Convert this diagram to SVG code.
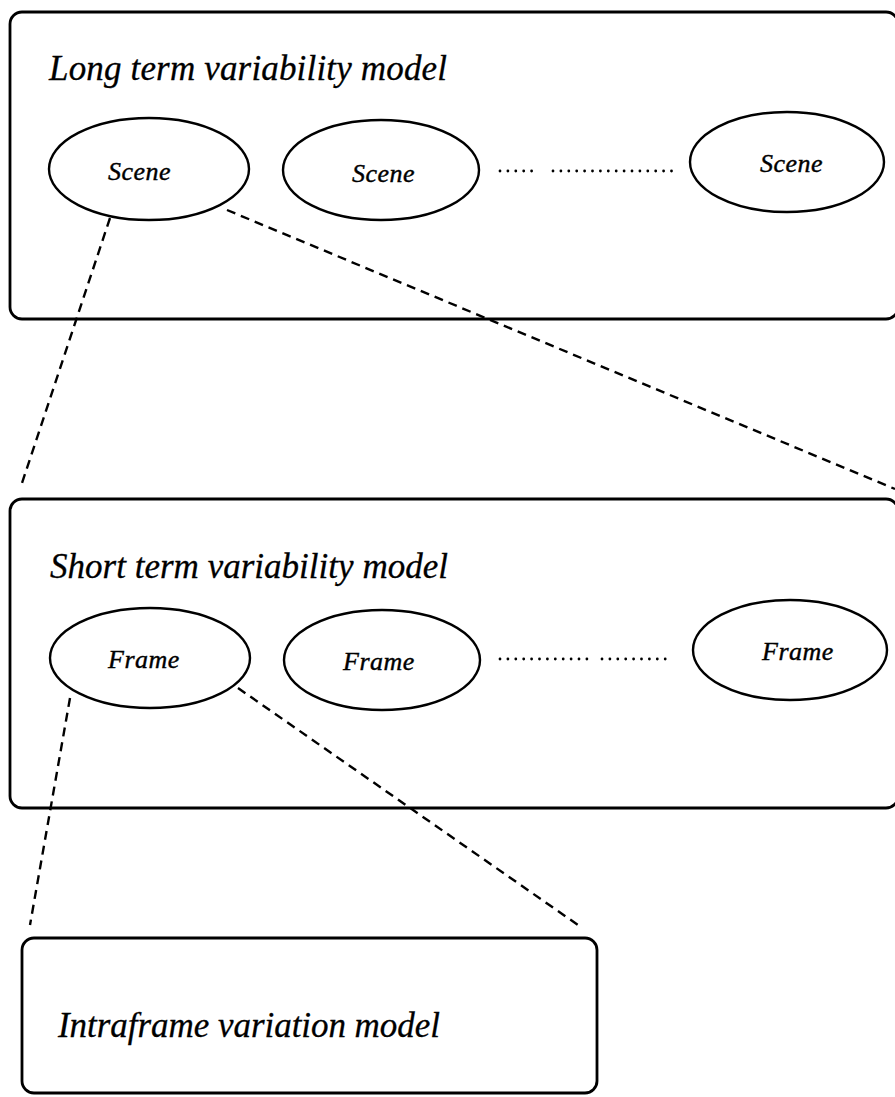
<svg xmlns="http://www.w3.org/2000/svg" width="895" height="1097" viewBox="0 0 895 1097">
  <style>
    .box { fill: none; stroke: #000; stroke-width: 2.8; }
    .node { fill: none; stroke: #000; stroke-width: 2.4; }
    .title { font-family: "Liberation Serif", "Times New Roman", serif; font-style: italic; font-size: 35px; fill: #000; stroke: #000; stroke-width: 0.3; }
    .label { font-family: "Liberation Serif", "Times New Roman", serif; font-style: italic; font-size: 26px; fill: #000; stroke: #000; stroke-width: 0.4; letter-spacing: 0.5px; }
    .link { fill: none; stroke: #000; stroke-width: 2.4; stroke-dasharray: 9 6; }
    .dots { fill: none; stroke: #000; stroke-width: 2.8; stroke-linecap: round; stroke-dasharray: 0 7.9; }
  </style>
  <rect width="895" height="1097" fill="#fff"/>

  <!-- Long term level -->
  <g id="long-term">
    <rect class="box" x="10" y="12" width="888" height="307" rx="12"/>
    <text class="title" x="49" y="80" textLength="398" lengthAdjust="spacing">Long term variability model</text>
    <g id="scene-1">
      <ellipse class="node" cx="149" cy="169" rx="100" ry="51"/>
      <text class="label" x="108" y="180">Scene</text>
    </g>
    <g id="scene-2">
      <ellipse class="node" cx="381" cy="170" rx="98" ry="50"/>
      <text class="label" x="352" y="182">Scene</text>
    </g>
    <g id="scene-n">
      <ellipse class="node" cx="787" cy="162" rx="97" ry="50"/>
      <text class="label" x="760" y="172">Scene</text>
    </g>
    <path class="dots" d="M500 171 H534 M553 171 H673"/>
  </g>

  <!-- Short term level -->
  <g id="short-term">
    <rect class="box" x="10" y="499" width="888" height="309" rx="12"/>
    <text class="title" x="50" y="578" textLength="398" lengthAdjust="spacing">Short term variability model</text>
    <g id="frame-1">
      <ellipse class="node" cx="150" cy="658" rx="100" ry="50"/>
      <text class="label" x="108" y="668">Frame</text>
    </g>
    <g id="frame-2">
      <ellipse class="node" cx="382" cy="660" rx="98" ry="50"/>
      <text class="label" x="343" y="670">Frame</text>
    </g>
    <g id="frame-n">
      <ellipse class="node" cx="790" cy="650" rx="97" ry="50"/>
      <text class="label" x="762" y="660">Frame</text>
    </g>
    <path class="dots" d="M500 659 H589 M602 659 H673"/>
  </g>

  <!-- Intraframe level -->
  <g id="intraframe">
    <rect class="box" x="22" y="938" width="575" height="155" rx="12"/>
    <text class="title" x="58" y="1037" textLength="382" lengthAdjust="spacing">Intraframe variation model</text>
  </g>

  <!-- Zoom-in connectors -->
  <g id="connectors">
    <line class="link" x1="110" y1="218" x2="22" y2="483"/>
    <line class="link" x1="227" y1="210" x2="895" y2="489"/>
    <line class="link" x1="70" y1="698" x2="30" y2="925"/>
    <line class="link" x1="238" y1="688" x2="578" y2="925"/>
  </g>
</svg>
